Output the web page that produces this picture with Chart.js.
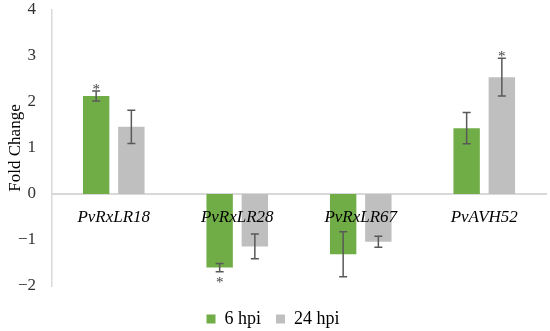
<!DOCTYPE html>
<html>
<head>
<meta charset="utf-8">
<script src="https://cdn.jsdelivr.net/npm/chart.js@4"></script>
<style>
  html, body { margin: 0; padding: 0; background: #fff; }
  #wrap { width: 550px; height: 331px; }
</style>
</head>
<body>
<div id="wrap"><canvas id="myChart"></canvas></div>
<script>
// gene names on the x axis
const genes = ['PvRxLR18', 'PvRxLR28', 'PvRxLR67', 'PvAVH52'];

// fold change at 6 hpi and its error
const hpi6 = [2.13, -1.60, -1.31, 1.43];
const err6 = [0.11, 0.09, 0.49, 0.34];

// fold change at 24 hpi and its error
const hpi24 = [1.46, -1.14, -1.04, 2.54];
const err24 = [0.36, 0.27, 0.12, 0.41];

// significant differences (asterisks)
const sig6 = [true, true, false, false];
const sig24 = [false, false, false, true];

const serif = "'Liberation Serif', 'DejaVu Serif', serif";

// draws error bars and asterisks on top of the bars
const errorBars = {
  id: 'errorBars',
  afterDatasetsDraw(chart) {
    const ctx = chart.ctx;
    const yScale = chart.scales.y;
    const errs = [err6, err24];
    const sigs = [sig6, sig24];
    chart.data.datasets.forEach((ds, i) => {
      const meta = chart.getDatasetMeta(i);
      meta.data.forEach((bar, j) => {
        const v = ds.data[j];
        const e = errs[i][j];
        const top = yScale.getPixelForValue(v + e);
        const bot = yScale.getPixelForValue(v - e);
        ctx.save();
        ctx.strokeStyle = '#595959';
        ctx.lineWidth = 1.5;
        ctx.beginPath();
        ctx.moveTo(bar.x, top);
        ctx.lineTo(bar.x, bot);
        ctx.moveTo(bar.x - 4, top);
        ctx.lineTo(bar.x + 4, top);
        ctx.moveTo(bar.x - 4, bot);
        ctx.lineTo(bar.x + 4, bot);
        ctx.stroke();
        if (sigs[i][j]) {
          ctx.fillStyle = '#404040';
          ctx.font = '15px ' + serif;
          ctx.textAlign = 'center';
          if (v >= 0) {
            ctx.textBaseline = 'alphabetic';
            ctx.fillText('*', bar.x, top + 3);
          } else {
            ctx.textBaseline = 'top';
            ctx.fillText('*', bar.x, bot + 4);
          }
        }
        ctx.restore();
      });
    });
  }
};

const ctx = document.getElementById('myChart').getContext('2d');
const chart = new Chart(ctx, {
  type: 'bar',
  data: {
    labels: genes,
    datasets: [
      {
        label: '6 hpi',
        data: hpi6,
        backgroundColor: '#70ad47',
        categoryPercentage: 0.57,
        barPercentage: 0.75
      },
      {
        label: '24 hpi',
        data: hpi24,
        backgroundColor: '#bfbfbf',
        categoryPercentage: 0.57,
        barPercentage: 0.75
      }
    ]
  },
  options: {
    responsive: true,
    maintainAspectRatio: false,
    animation: false,
    layout: { padding: { left: 0, right: 4, top: 0, bottom: -7 } },
    plugins: {
      tooltip: { enabled: false },
      legend: {
        position: 'bottom',
        title: { display: true, text: '', padding: 0, font: { size: 7.5 } },
        labels: {
          boxWidth: 9,
          boxHeight: 9,
          padding: 15,
          color: '#000',
          font: { family: serif, size: 18 }
        }
      }
    },
    scales: {
      x: {
        position: { y: 0 },
        grid: { display: false },
        border: { display: true, color: '#d9d9d9', width: 2 },
        afterFit: s => { s.paddingLeft = 0; s.paddingRight = 0; },
        ticks: {
          z: 1,
          padding: 5,
          color: '#000',
          font: { family: serif, size: 17, style: 'italic' }
        }
      },
      y: {
        min: -2,
        max: 4,
        grid: { display: false },
        border: { display: true, color: '#d9d9d9', width: 1.5 },
        afterFit: s => { s.width = 52; s.paddingTop = 10; s.paddingBottom = 0; },
        ticks: {
          stepSize: 1,
          padding: 8,
          color: '#333',
          font: { family: serif, size: 17 },
          callback: v => String(v).replace('-', '\u2212')
        },
        title: {
          display: true,
          text: 'Fold Change',
          color: '#000',
          padding: { top: 5, bottom: 4 },
          font: { family: serif, size: 17 }
        }
      }
    }
  },
  plugins: [errorBars]
});
</script>
</body>
</html>
